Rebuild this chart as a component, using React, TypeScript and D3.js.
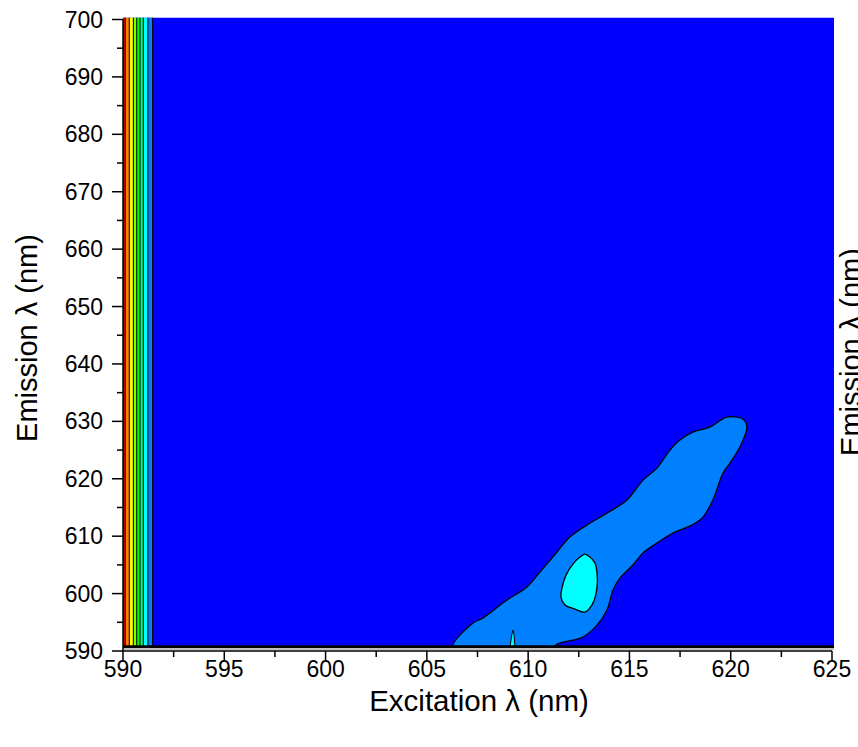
import React from "react";
import * as d3 from "d3";

// ---- data ----
const xTicks = [590, 595, 600, 605, 610, 615, 620, 625];
const xMinor = [592.5, 597.5, 602.5, 607.5, 612.5, 617.5, 622.5];
const yTicks = [590, 600, 610, 620, 630, 640, 650, 660, 670, 680, 690, 700];
const yMinor = [595, 605, 615, 625, 635, 645, 655, 665, 675, 685, 695];

// contour level colours, high -> low
const levelColors = ["#FF0000", "#FF8000", "#FFFF00", "#80FF00", "#00FF00", "#00FF80", "#00FFFF", "#0080FF", "#0000FF"];
// excitation positions of the vertical contour lines at the left edge
const leftEdges = [590, 590.11, 590.31, 590.51, 590.68, 590.84, 591.0, 591.23, 591.46];

// data extent of the measured map
const exRange = [590, 625.1];
const emRange = [590.75, 700.35];

// second-lowest level contour (excitation, emission)
const levelTwo: [number, number][] = [
  [606.29, 590.6], [607.28, 594.86], [607.77, 595.73], [608.95, 598.87], [609.94, 601.13],
  [610.58, 603.75], [611.22, 606.36], [612.06, 609.84], [612.9, 611.93], [613.89, 614.02],
  [614.88, 616.29], [615.67, 619.77], [616.36, 621.86], [617.0, 625.0], [617.49, 626.74],
  [618.13, 628.14], [618.97, 629.01], [619.81, 630.75], [620.6, 630.4], [620.8, 629.01],
  [620.45, 625.52], [619.96, 622.74], [619.62, 620.99], [619.12, 616.29], [618.63, 613.33],
  [618.08, 611.93], [617.15, 610.54], [616.36, 608.8], [615.67, 607.06], [615.17, 604.97],
  [614.53, 602.7], [614.19, 600.61], [613.89, 597.13], [613.4, 594.51], [612.7, 592.42],
  [612.21, 591.9], [611.42, 591.2], [611.22, 590.6],
];
// third level island
const levelThree: [number, number][] = [
  [612.8, 606.88], [613.05, 606.36], [613.3, 605.31], [613.4, 603.57], [613.4, 601.13],
  [613.2, 598.34], [612.8, 596.78], [612.31, 597.3], [611.82, 598.0], [611.62, 599.39],
  [611.67, 600.96], [611.87, 603.22], [612.21, 605.14], [612.56, 606.36],
];
// third level spike at the lower edge
const levelThreeSpike: [number, number][] = [
  [609.1, 590.6], [609.2, 592.94], [609.25, 593.64], [609.3, 592.94], [609.35, 590.6],
];

const W = 858;
const H = 747;
const FONT = "'Liberation Sans', Arial, Helvetica, sans-serif";

export default function App() {
  const x = d3.scaleLinear().domain([590, 625]).range([123, 832]);
  const y = d3.scaleLinear().domain([590, 700]).range([651, 19.5]);

  const line = d3
    .line<[number, number]>()
    .x((d) => x(d[0]))
    .y((d) => y(d[1]))
    .curve(d3.curveCatmullRomClosed.alpha(0.5));
  const spikeLine = d3
    .line<[number, number]>()
    .x((d) => x(d[0]))
    .y((d) => y(d[1]));

  const top = y(emRange[1]);
  const bottom = y(emRange[0]);

  return (
    <svg width={W} height={H} style={{ position: "absolute", left: 0, top: 0, background: "#fff" }}>
      <defs>
        <clipPath id="plotClip">
          <rect x={x(exRange[0])} y={top} width={x(exRange[1]) - x(exRange[0])} height={bottom - top} />
        </clipPath>
      </defs>
      <g clipPath="url(#plotClip)">
        <rect x={x(exRange[0])} y={top} width={x(exRange[1]) - x(exRange[0])} height={bottom - top} fill={levelColors[8]} />
        {leftEdges.slice(0, -1).map((e, i) => (
          <rect key={i} x={x(e)} y={top} width={x(leftEdges[i + 1]) - x(e)} height={bottom - top} fill={levelColors[i]} />
        ))}
        {leftEdges.slice(1).map((e, i) => (
          <line key={i} x1={x(e)} x2={x(e)} y1={top} y2={bottom} stroke="#000" strokeWidth={1} />
        ))}
        <path d={line(levelTwo) || ""} fill={levelColors[7]} stroke="#000" strokeWidth={1.3} />
        <path d={line(levelThree) || ""} fill={levelColors[6]} stroke="#000" strokeWidth={1.3} />
        <path d={(spikeLine(levelThreeSpike) || "") + "Z"} fill={levelColors[6]} stroke="#000" strokeWidth={1} />
      </g>
      {/* piled-up contour lines along the lower data edge */}
      <line x1={x(exRange[0])} x2={x(exRange[1])} y1={bottom} y2={bottom} stroke="#000" strokeWidth={3} />
      <line x1={x(exRange[0])} x2={x(exRange[1])} y1={y(590.25)} y2={y(590.25)} stroke="#bbb" strokeWidth={1} />

      {/* axes */}
      <line x1={x(590)} x2={x(625)} y1={y(590)} y2={y(590)} stroke="#000" strokeWidth={1.5} />
      <line x1={x(590)} x2={x(590)} y1={y(700)} y2={y(590)} stroke="#000" strokeWidth={1.5} />
      {xTicks.map((t) => (
        <g key={t}>
          <line x1={x(t)} x2={x(t)} y1={y(590)} y2={y(590) + 10} stroke="#000" strokeWidth={1.5} />
          <text x={x(t)} y={y(590) + 26} textAnchor="middle" fontFamily={FONT} fontSize={23} fill="#000">
            {t}
          </text>
        </g>
      ))}
      {xMinor.map((t) => (
        <line key={t} x1={x(t)} x2={x(t)} y1={y(590)} y2={y(590) + 6} stroke="#000" strokeWidth={1.5} />
      ))}
      {yTicks.map((t) => (
        <g key={t}>
          <line x1={x(590) - 11} x2={x(590)} y1={y(t)} y2={y(t)} stroke="#000" strokeWidth={1.5} />
          <text x={x(590) - 20} y={y(t)} dy="0.35em" textAnchor="end" fontFamily={FONT} fontSize={23} fill="#000">
            {t}
          </text>
        </g>
      ))}
      {yMinor.map((t) => (
        <line key={t} x1={x(590) - 6} x2={x(590)} y1={y(t)} y2={y(t)} stroke="#000" strokeWidth={1.5} />
      ))}

      <text x={479} y={711} textAnchor="middle" fontFamily={FONT} fontSize={29.5} fill="#000">
        Excitation λ (nm)
      </text>
      <text transform="translate(37,338) rotate(-90)" textAnchor="middle" fontFamily={FONT} fontSize={29} fill="#000">
        Emission λ (nm)
      </text>
      <text transform="translate(861,352) rotate(-90)" textAnchor="middle" fontFamily={FONT} fontSize={29} fill="#000">
        Emission λ (nm)
      </text>
    </svg>
  );
}
